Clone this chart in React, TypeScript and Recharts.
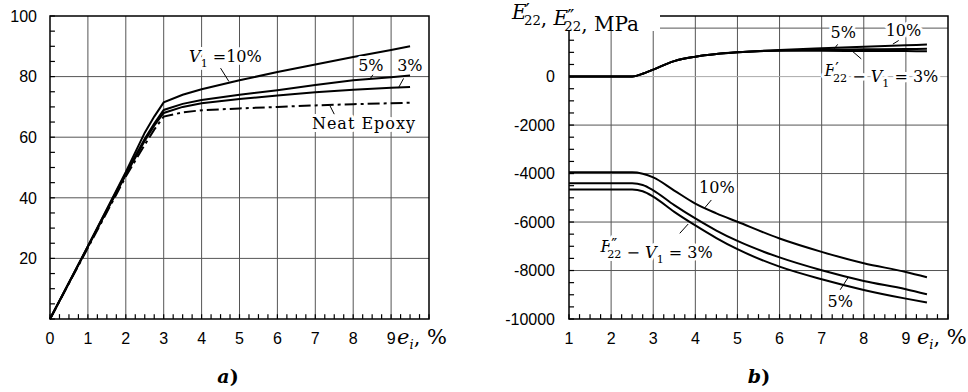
import React from 'react'
import {
  LineChart,
  Line,
  XAxis,
  YAxis,
  CartesianGrid,
  ReferenceArea,
  ReferenceDot,
  ReferenceLine,
} from 'recharts'

// Panel a) stress vs strain e_i, %
const strainA = [0, 1, 2, 2.5, 2.75, 3, 3.5, 4, 5, 6, 7, 8, 9, 9.5]
const stressV10 = [0, 24, 48.5, 61.5, 66.8, 71.5, 74, 75.8, 78.8, 81.5, 84, 86.5, 88.8, 90]
const stressV5 = [0, 24, 48, 59.5, 64.5, 69, 71, 72.3, 74, 75.5, 77.2, 78.8, 79.8, 80.4]
const stressV3 = [0, 23.8, 47.6, 58.8, 63.8, 68, 70, 71.2, 72.6, 73.8, 74.8, 75.7, 76.3, 76.6]
const stressEpoxy = [0, 23.5, 47, 57.5, 62.5, 66.8, 68.2, 68.9, 69.5, 70, 70.5, 70.9, 71.2, 71.4]

// Panel b) E'22 and E''22, MPa vs strain
const strainB = [1, 2, 2.5, 2.75, 3, 3.5, 4, 4.5, 5, 6, 7, 8, 9, 9.5]
const storageV10 = [0, 0, 0, 120, 290, 640, 820, 930, 1000, 1100, 1170, 1230, 1290, 1320]
const storageV5 = [0, 0, 0, 120, 290, 640, 820, 930, 1000, 1080, 1110, 1125, 1140, 1145]
const storageV3 = [0, 0, 0, 120, 290, 640, 820, 930, 1000, 1070, 1065, 1058, 1052, 1050]
const lossV10 = [-3950, -3950, -3950, -4010, -4160, -4700, -5240, -5640, -5990, -6680, -7230, -7700, -8060, -8280]
const lossV3 = [-4400, -4400, -4400, -4470, -4690, -5300, -5850, -6350, -6780, -7460, -7990, -8430, -8770, -8980]
const lossV5 = [-4660, -4660, -4660, -4730, -4950, -5580, -6140, -6660, -7120, -7840, -8360, -8800, -9160, -9320]

// tick labels
const xLabelsA = [0, 1, 2, 3, 4, 5, 6, 7, 8, 9]
const xLabelsB = [1, 2, 3, 4, 5, 6, 7, 8, 9]
const yLabelsA = [20, 40, 60, 80, 100]
const yLabelsB = [0, -2000, -4000, -6000, -8000, -10000]
const gridXA = [1, 2, 3, 4, 5, 6, 7, 8, 9]
const gridYA = [20, 40, 60, 80]
const gridXB = [2, 3, 4, 5, 6, 7, 8, 9]
const gridYB = [2000, -2000, -4000, -6000, -8000]

const range = (from: number, to: number, step: number) => {
  const out: number[] = []
  for (let v = from; v <= to + 1e-9; v += step) out.push(Math.round(v * 100) / 100)
  return out
}

const minorXA = range(0, 10, 0.25)
const minorYA = range(0, 100, 5)
const minorXB = range(1, 10, 0.25)
const minorYB = range(-10000, 2000, 500)

const dataA = strainA.map((x, i) => ({
  x,
  v10: stressV10[i],
  v5: stressV5[i],
  v3: stressV3[i],
  epoxy: stressEpoxy[i],
}))

const dataB = strainB.map((x, i) => ({
  x,
  s10: storageV10[i],
  s5: storageV5[i],
  s3: storageV3[i],
  l10: lossV10[i],
  l5: lossV5[i],
  l3: lossV3[i],
}))

const SANS = '"Liberation Sans", Arial, sans-serif'
const SERIF = '"DejaVu Serif", "Liberation Serif", serif'
const GRID = '#555'

const halo = {
  stroke: '#fff',
  strokeWidth: 6,
  strokeLinejoin: 'round' as const,
  paintOrder: 'stroke' as const,
}

const UnitLabel = ({ x, y }: { x: number; y: number }) => (
  <text x={x} y={y} fontFamily={SERIF} fontSize={21} fill="#000">
    <tspan fontStyle="italic">e</tspan>
    <tspan fontStyle="italic" fontSize={13} dy={5}>i</tspan>
    <tspan dy={-5}>, %</tspan>
  </text>
)

const XTick = (props: any) => {
  const { x, y, payload, labels, unitGap } = props
  const v = payload.value
  return (
    <g>
      {labels.includes(v) && (
        <text x={x} y={y + 25} textAnchor="middle" fontFamily={SANS} fontSize={16} fill="#000">
          {v}
        </text>
      )}
      {v === 9 && <UnitLabel x={x + unitGap} y={y + 25} />}
    </g>
  )
}

const YTick = (props: any) => {
  const { x, y, payload, labels, gap } = props
  const v = payload.value
  return (
    <g>
      {labels.includes(v) && (
        <text x={x - gap} y={y} dy="0.36em" textAnchor="end" fontFamily={SANS} fontSize={16} fill="#000">
          {v}
        </text>
      )}
    </g>
  )
}

// text placed at a data point (left/baseline anchor)
const note = (x: number, y: number, content: React.ReactNode, extra: any = {}) => (
  <ReferenceDot
    x={x}
    y={y}
    r={0}
    shape={(p: any) => (
      <text x={p.cx} y={p.cy} fontFamily={SERIF} fontSize={16} fill="#000" {...halo} {...extra}>
        {content}
      </text>
    )}
  />
)

const leader = (x1: number, y1: number, x2: number, y2: number, w = 1, key?: string) => (
  <ReferenceLine
    key={key}
    segment={[
      { x: x1, y: y1 },
      { x: x2, y: y2 },
    ]}
    stroke="#000"
    strokeWidth={w}
  />
)

const Sub = ({ children }: { children: React.ReactNode }) => (
  <tspan fontSize={11} dy={5}>
    {children}
  </tspan>
)

// E with a prime above and "22" below
const E22 = ({ prime, size = 16 }: { prime: string; size?: number }) => (
  <>
    <tspan fontStyle="italic">E</tspan>
    <tspan fontSize={size} dx={-1} dy={-2}>{prime}</tspan>
    <tspan fontSize={size * 0.7} dx={prime.length > 0 && prime === '″' ? -10 : -6} dy={8}>22</tspan>
    <tspan dy={-6}>{''}</tspan>
  </>
)

const lineProps = {
  stroke: '#000',
  strokeWidth: 2,
  dot: false,
  isAnimationActive: false,
}

const PanelA = () => (
  <LineChart width={480} height={392} data={dataA} margin={{ top: 16, right: 51, left: 0, bottom: 43 }}>
    <CartesianGrid stroke={GRID} horizontalValues={gridYA} verticalValues={gridXA} />
    <XAxis
      type="number"
      dataKey="x"
      domain={[0, 10]}
      ticks={minorXA}
      interval={0}
      height={30}
      axisLine={false}
      tickLine={false}
      tickSize={0}
      tickMargin={0}
      tick={(p: any) => <XTick {...p} labels={xLabelsA} unitGap={6} />}
    />
    <YAxis
      type="number"
      domain={[0, 100]}
      ticks={minorYA}
      interval={0}
      width={50}
      axisLine={false}
      tickLine={false}
      tickSize={0}
      tickMargin={0}
      tick={(p: any) => <YTick {...p} labels={yLabelsA} gap={13} />}
    />
    <ReferenceArea x1={0} x2={10} y1={0} y2={100} fill="none" stroke="#000" strokeWidth={1.5} />
    {minorXA.map((v) => leader(v, 0, v, 1.6, 1.2, `xa${v}`))}
    {minorYA.map((v) => leader(0, v, 0.13, v, 1.2, `ya${v}`))}
    <Line dataKey="epoxy" {...lineProps} strokeDasharray="12 4 3 4" />
    <Line dataKey="v3" {...lineProps} />
    <Line dataKey="v5" {...lineProps} />
    <Line dataKey="v10" {...lineProps} />
    {leader(4.5, 82.8, 4.72, 78.4)}
    {leader(8.43, 79, 8.52, 80.6)}
    {leader(9.19, 76.2, 9.33, 79.4)}
    {leader(7.39, 70.3, 7.5, 67.6)}
    {note(
      3.67,
      84.7,
      <>
        <tspan fontStyle="italic">V</tspan>
        <Sub>1</Sub>
        <tspan dy={-5}> =10%</tspan>
      </>,
    )}
    {note(8.13, 81.8, '5%')}
    {note(9.16, 81.8, '3%')}
    {note(6.91, 62.8, 'Neat Epoxy', { letterSpacing: 1 })}
  </LineChart>
)

const PanelB = () => (
  <LineChart width={488} height={392} data={dataB} margin={{ top: 16, right: 20, left: 0, bottom: 43 }}>
    <CartesianGrid stroke={GRID} horizontalValues={gridYB} verticalValues={gridXB} />
    <CartesianGrid stroke="#aaa" horizontalValues={[0]} vertical={false} />
    <XAxis
      type="number"
      dataKey="x"
      domain={[1, 10]}
      ticks={minorXB}
      interval={0}
      height={30}
      axisLine={false}
      tickLine={false}
      tickSize={0}
      tickMargin={0}
      tick={(p: any) => <XTick {...p} labels={xLabelsB} unitGap={11} />}
    />
    <YAxis
      type="number"
      domain={[-10000, 2500]}
      ticks={minorYB}
      interval={0}
      width={89}
      axisLine={false}
      tickLine={false}
      tickSize={0}
      tickMargin={0}
      tick={(p: any) => <YTick {...p} labels={yLabelsB} gap={14} />}
    />
    <ReferenceArea x1={1} x2={10} y1={-10000} y2={2500} fill="none" stroke="#000" strokeWidth={1.5} />
    {minorXB.map((v) => leader(v, -10000, v, -9800, 1.2, `xb${v}`))}
    {minorYB.map((v) => leader(1, v, 1.12, v, 1.2, `yb${v}`))}
    <Line type="monotone" dataKey="s3" {...lineProps} />
    <Line type="monotone" dataKey="s5" {...lineProps} />
    <Line type="monotone" dataKey="s10" {...lineProps} />
    <Line type="monotone" dataKey="l10" {...lineProps} />
    <Line type="monotone" dataKey="l3" {...lineProps} />
    <Line type="monotone" dataKey="l5" {...lineProps} />
    {leader(7.3, 1150, 7.38, 1330)}
    {leader(8.69, 1340, 8.83, 1490)}
    {leader(7.72, 1060, 7.94, 730)}
    {leader(4.22, -5420, 4.38, -5090)}
    {leader(3.63, -6466, 3.83, -6082)}
    {leader(7.44, -8794, 7.63, -8283)}
    {note(7.21, 1585, '5%')}
    {note(8.52, 1693, '10%')}
    {note(
      7.07,
      41,
      <>
        <E22 prime="′" />
        <tspan> − </tspan>
        <tspan fontStyle="italic">V</tspan>
        <Sub>1</Sub>
        <tspan dy={-5}> = 3%</tspan>
      </>,
    )}
    {note(4.09, -4814, '10%')}
    {note(
      1.75,
      -7250,
      <>
        <E22 prime="″" />
        <tspan> − </tspan>
        <tspan fontStyle="italic">V</tspan>
        <Sub>1</Sub>
        <tspan dy={-5}> = 3%</tspan>
      </>,
    )}
    {note(7.14, -9521, '5%')}
  </LineChart>
)

export default function App() {
  return (
    <div style={{ position: 'absolute', left: 0, top: 0, width: 968, height: 392, background: '#fff' }}>
      <div style={{ position: 'absolute', left: 0, top: 0 }}>
        <PanelA />
      </div>
      <div style={{ position: 'absolute', left: 480, top: 0 }}>
        <PanelB />
      </div>
      <svg
        width={968}
        height={392}
        style={{ position: 'absolute', left: 0, top: 0, pointerEvents: 'none' }}
      >
        <rect x={504} y={0} width={156} height={31} fill="#fff" />
        <text x={512} y={19} fontFamily={SERIF} fontSize={20} fill="#000">
          <E22 prime="′" size={19} />
          <tspan>, </tspan>
          <E22 prime="″" size={19} />
          <tspan>, MPa</tspan>
        </text>
        <text x={228} y={383} textAnchor="middle" fontFamily={SERIF} fontSize={19} fontWeight="bold" fill="#000">
          <tspan fontStyle="italic">a</tspan>)
        </text>
        <text x={759} y={383} textAnchor="middle" fontFamily={SERIF} fontSize={19} fontWeight="bold" fill="#000">
          <tspan fontStyle="italic">b</tspan>)
        </text>
      </svg>
    </div>
  )
}
